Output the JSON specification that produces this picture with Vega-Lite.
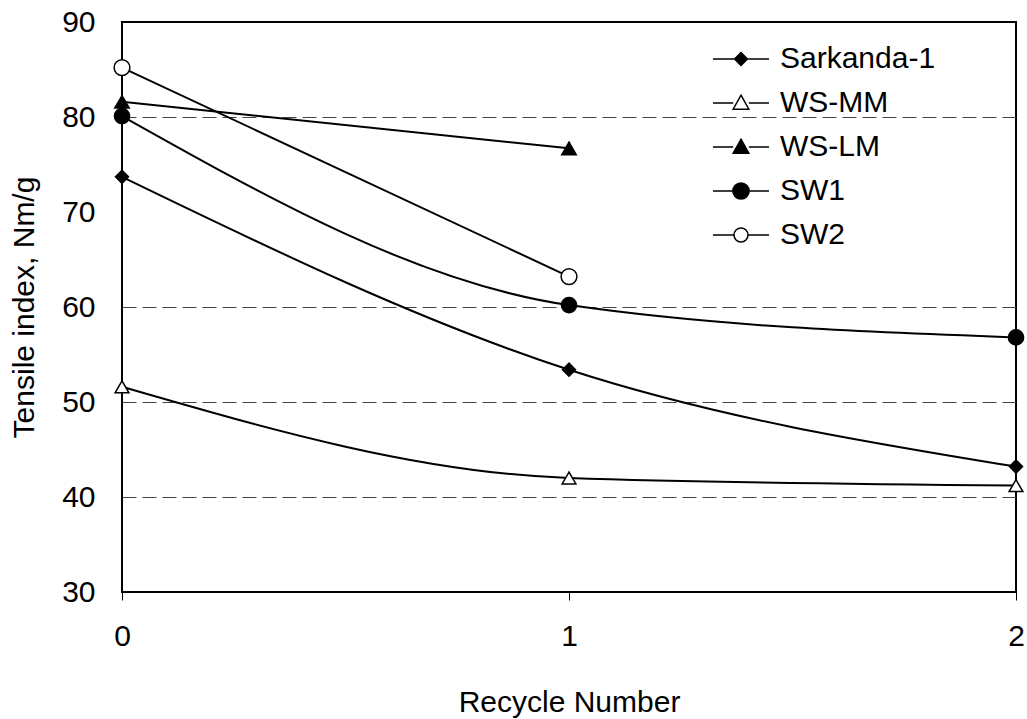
{
  "$schema": "https://vega.github.io/schema/vega-lite/v6.json",
  "width": 894,
  "height": 570,
  "autosize": {"type": "none"},
  "padding": {"left": 122, "top": 22, "right": 11, "bottom": 127},
  "background": "white",
  "config": {
    "font": "Liberation Sans",
    "view": {"stroke": "black", "strokeWidth": 2},
    "axis": {"labelFont": "Liberation Sans", "titleFont": "Liberation Sans", "labelColor": "black", "titleColor": "black", "titleFontWeight": "normal"}
  },
  "data": {
    "values": [
      {"series": "Sarkanda-1", "x": 0, "y": 73.7},
      {"series": "Sarkanda-1", "x": 1, "y": 53.4},
      {"series": "Sarkanda-1", "x": 2, "y": 43.2},
      {"series": "WS-MM", "x": 0, "y": 51.6},
      {"series": "WS-MM", "x": 1, "y": 42.0},
      {"series": "WS-MM", "x": 2, "y": 41.2},
      {"series": "WS-LM", "x": 0, "y": 81.6},
      {"series": "WS-LM", "x": 1, "y": 76.7},
      {"series": "SW1", "x": 0, "y": 80.1},
      {"series": "SW1", "x": 1, "y": 60.2},
      {"series": "SW1", "x": 2, "y": 56.8},
      {"series": "SW2", "x": 0, "y": 85.2},
      {"series": "SW2", "x": 1, "y": 63.2}
    ]
  },
  "encoding": {
    "x": {
      "field": "x", "type": "quantitative",
      "scale": {"domain": [0, 2], "nice": false},
      "axis": {
        "title": "Recycle Number", "values": [0, 1, 2],
        "labelExpr": "datum.value == 0 ? '0' : datum.value == 1 ? '1' : '2'",
        "grid": false, "domain": false, "ticks": true, "tickSize": 8, "tickColor": "black",
        "labelFlush": false, "labelOverlap": false,
        "labelFontSize": 30, "labelPadding": 21, "titleFontSize": 30, "titlePadding": 36
      }
    },
    "y": {
      "field": "y", "type": "quantitative",
      "scale": {"domain": [30, 90], "nice": false},
      "axis": {
        "title": "Tensile index, Nm/g", "values": [30, 40, 50, 60, 70, 80, 90],
        "domain": false, "ticks": false, "labelPadding": 27, "labelFontSize": 30,
        "labelFlush": false, "labelOverlap": false,
        "titleFontSize": 30, "titlePadding": 22,
        "grid": true, "gridColor": "#444444", "gridDash": [14, 6], "gridWidth": 1,
        "gridOpacity": {"condition": {"test": "datum.value == 70 || datum.value == 30 || datum.value == 90", "value": 0}, "value": 1}
      }
    }
  },
  "layer": [
    {
      "mark": {"type": "line", "interpolate": "monotone", "color": "black", "strokeWidth": 2},
      "encoding": {"detail": {"field": "series"}}
    },
    {
      "mark": {"type": "point", "filled": true, "stroke": "black", "strokeWidth": 1.5, "opacity": 1},
      "encoding": {
        "shape": {
          "field": "series", "type": "nominal", "legend": null,
          "scale": {"domain": ["Sarkanda-1", "WS-MM", "WS-LM", "SW1", "SW2"], "range": ["diamond", "triangle-up", "triangle-up", "circle", "circle"]}
        },
        "fill": {
          "field": "series", "type": "nominal", "legend": null,
          "scale": {"domain": ["Sarkanda-1", "WS-MM", "WS-LM", "SW1", "SW2"], "range": ["black", "white", "black", "black", "white"]}
        },
        "size": {
          "field": "series", "type": "nominal", "legend": null,
          "scale": {"domain": ["Sarkanda-1", "WS-MM", "WS-LM", "SW1", "SW2"], "range": [170, 250, 280, 256, 190]}
        }
      }
    },
    {
      "transform": [{"filter": "datum.x < 0"}],
      "mark": {"type": "point", "filled": true, "strokeWidth": 1.5, "opacity": 1},
      "encoding": {
        "shape": {
          "field": "series", "type": "nominal",
          "scale": {
            "domain": ["Sarkanda-1", "WS-MM", "WS-LM", "SW1", "SW2"],
            "range": [
              "M-1,0H-0.23M0.23,0H1M0,-0.23L0.23,0L0,0.23L-0.23,0Z",
              "M-1,0H-0.28M0.28,0H1M0,-0.28L0.28,0.22L-0.28,0.22Z",
              "M-1,0H-0.28M0.28,0H1M0,-0.28L0.28,0.22L-0.28,0.22Z",
              "M-1,0H-0.29M0.29,0H1M-0.29,0A0.29,0.29 0 1,0 0.29,0A0.29,0.29 0 1,0 -0.29,0Z",
              "M-1,0H-0.25M0.25,0H1M-0.25,0A0.25,0.25 0 1,0 0.25,0A0.25,0.25 0 1,0 -0.25,0Z"
            ]
          },
          "legend": {
            "title": null, "orient": "none", "legendX": 590, "legendY": 8,
            "symbolSize": 3136, "symbolStrokeWidth": 1.5,
            "labelFontSize": 30, "labelFont": "Liberation Sans", "labelColor": "black",
            "labelOffset": 10, "rowPadding": 0
          }
        },
        "fill": {
          "field": "series", "type": "nominal",
          "scale": {"domain": ["Sarkanda-1", "WS-MM", "WS-LM", "SW1", "SW2"], "range": ["black", "white", "black", "black", "white"]},
          "legend": {
            "title": null, "orient": "none", "legendX": 590, "legendY": 8,
            "symbolSize": 3136, "symbolStrokeWidth": 1.5,
            "labelFontSize": 30, "labelFont": "Liberation Sans", "labelColor": "black",
            "labelOffset": 10, "rowPadding": 0
          }
        },
        "stroke": {
          "field": "series", "type": "nominal",
          "scale": {"domain": ["Sarkanda-1", "WS-MM", "WS-LM", "SW1", "SW2"], "range": ["black", "black", "black", "black", "black"]},
          "legend": {
            "title": null, "orient": "none", "legendX": 590, "legendY": 8,
            "symbolSize": 3136, "symbolStrokeWidth": 1.5,
            "labelFontSize": 30, "labelFont": "Liberation Sans", "labelColor": "black",
            "labelOffset": 10, "rowPadding": 0
          }
        }
      }
    }
  ],
  "resolve": {"scale": {"shape": "independent", "fill": "independent", "size": "independent", "stroke": "independent"}}
}
